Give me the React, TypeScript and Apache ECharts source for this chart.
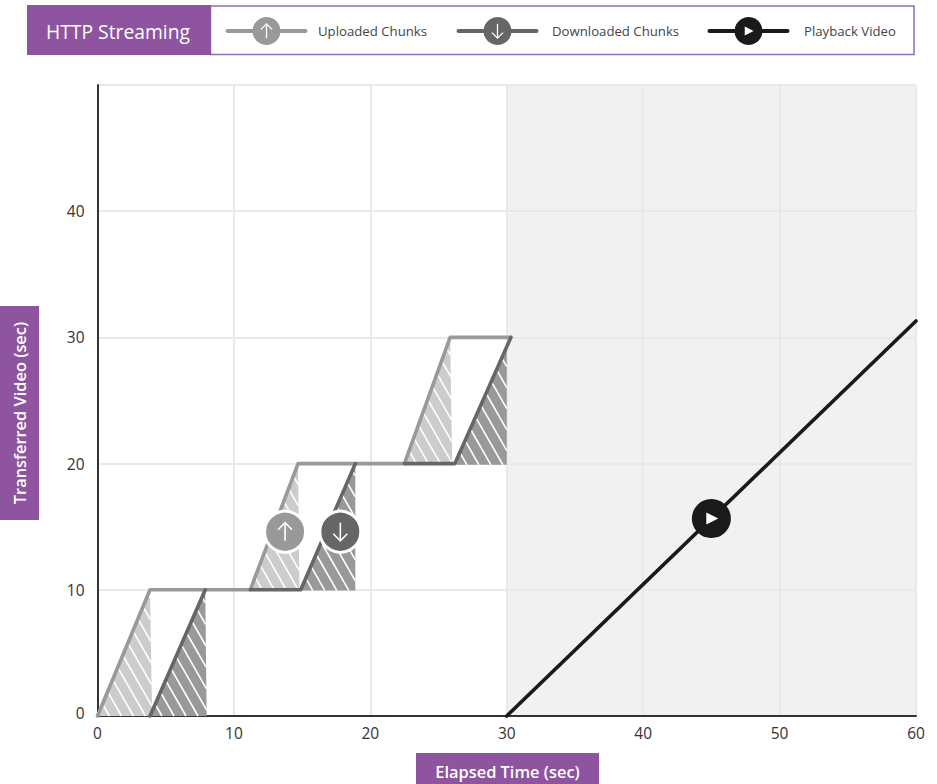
import React, { useEffect, useRef } from "react";
import * as echarts from "echarts";

const FONT = "'Open Sans'";
const PURPLE = "#8e54a0";
const UPLOAD = "#999999";
const DOWNLOAD = "#666666";
const PLAYBACK = "#1a1a1a";

const xTicks = { min: 0, max: 60, interval: 10 };
const yTicks = { min: 0, max: 50, interval: 10 };
const hiddenYLabels = [50];

const uploadLine = [[0, 0], [3.85, 10], [11.2, 10], [14.7, 20], [22.5, 20], [25.85, 30], [30.3, 30]];
const downloadLines = [
  [[3.85, 0], [7.9, 10]],
  [[11.2, 10], [14.9, 10], [18.9, 20]],
  [[22.5, 20], [26.2, 20], [30.3, 30]],
];
const playbackLine = [[30, 0], [60, 31.3]];
const uploadFills = [
  [0, 0, 3.85, 10, 4, 0],
  [11.2, 10, 14.7, 20, 14.8, 10],
  [22.5, 20, 25.85, 30, 26, 20],
];
const downloadFills = [
  [3.85, 0, 7.9, 10, 8, 0],
  [14.9, 9.95, 18.9, 20, 18.9, 9.95],
  [26.2, 19.9, 30, 29.4, 30, 19.9],
];
const shadedRange = [[30, 60]];
const markers = [
  { value: [13.75, 14.6], kind: "up" },
  { value: [17.8, 14.6], kind: "down" },
  { value: [45, 15.65], kind: "play" },
];
const legendItems = [
  { label: "Uploaded Chunks", color: UPLOAD, kind: "up" },
  { label: "Downloaded Chunks", color: DOWNLOAD, kind: "down" },
  { label: "Playback Video", color: PLAYBACK, kind: "play" },
];
const headerTitle = "HTTP Streaming";
const xAxisTitle = "Elapsed Time (sec)";
const yAxisTitle = "Transferred Video (sec)";

function clipLine(poly: number[][], a: number[], b: number[]) {
  let t0 = -Infinity, t1 = Infinity;
  let area = 0;
  for (let i = 0; i < poly.length; i++) {
    const p = poly[i], q = poly[(i + 1) % poly.length];
    area += p[0] * q[1] - q[0] * p[1];
  }
  const s = area > 0 ? 1 : -1;
  const dx = b[0] - a[0], dy = b[1] - a[1];
  for (let i = 0; i < poly.length; i++) {
    const p = poly[i], q = poly[(i + 1) % poly.length];
    const ex = q[0] - p[0], ey = q[1] - p[1];
    const n = s * (ex * dy - ey * dx);
    const d = s * (ex * (a[1] - p[1]) - ey * (a[0] - p[0]));
    if (Math.abs(n) < 1e-9) {
      if (d < 0) return null;
      continue;
    }
    const t = -d / n;
    if (n > 0) t0 = Math.max(t0, t);
    else t1 = Math.min(t1, t);
  }
  if (t0 >= t1) return null;
  return [a[0] + dx * t0, a[1] + dy * t0, a[0] + dx * t1, a[1] + dy * t1];
}

function hatchRender(fill: string) {
  const spacing = 12;
  const slope = 1.75;
  return (_: any, api: any) => {
    const pts = [0, 2, 4].map((i) => api.coord([api.value(i), api.value(i + 1)]));
    const children: any[] = [
      { type: "polygon", shape: { points: pts }, style: { fill, stroke: null } },
    ];
    const minX = Math.min(...pts.map((p: number[]) => p[0]));
    const maxX = Math.max(...pts.map((p: number[]) => p[0]));
    const minY = Math.min(...pts.map((p: number[]) => p[1]));
    const maxY = Math.max(...pts.map((p: number[]) => p[1]));
    const startOffset = minX - (maxY - minY) / slope - spacing;
    for (let x = startOffset; x < maxX + spacing; x += spacing) {
      const seg = clipLine(pts, [x, minY], [x + (maxY - minY) / slope, maxY]);
      if (seg) {
        children.push({
          type: "line",
          shape: { x1: seg[0], y1: seg[1], x2: seg[2], y2: seg[3] },
          style: { stroke: "#ffffff", lineWidth: 1.6 },
        });
      }
    }
    return { type: "group", children };
  };
}

function iconParts(kind: string, cx: number, cy: number, s: number) {
  if (kind === "play") {
    return [{
      type: "polygon",
      shape: { points: [[cx - 5.5 * s, cy - 6.5 * s], [cx - 5.5 * s, cy + 6.5 * s], [cx + 7.5 * s, cy]] },
      style: { fill: "#ffffff" },
    }];
  }
  const d = kind === "up" ? -1 : 1;
  const stroke = { stroke: "#ffffff", lineWidth: 1.6 * Math.max(s, 0.8), fill: "none" };
  return [
    { type: "line", shape: { x1: cx, y1: cy - d * 9 * s, x2: cx, y2: cy + d * 9 * s }, style: stroke },
    {
      type: "polyline",
      shape: { points: [[cx - 7 * s, cy + d * 2 * s], [cx, cy + d * 9 * s], [cx + 7 * s, cy + d * 2 * s]] },
      style: stroke,
    },
  ];
}

function legendGraphics() {
  const lineStarts = [226, 457, 708];
  const textStarts = [318, 552, 804];
  const out: any[] = [];
  legendItems.forEach((item, i) => {
    const x = lineStarts[i];
    const cx = x + 40.5;
    out.push({
      type: "line",
      shape: { x1: x + 1.5, y1: 31, x2: x + 79.5, y2: 31 },
      style: { stroke: item.color, lineWidth: 4, lineCap: "round" },
    });
    out.push({ type: "circle", shape: { cx, cy: 31, r: 14 }, style: { fill: item.color } });
    iconParts(item.kind, cx, 31, item.kind === "play" ? 0.68 : 0.8).forEach((p) => out.push(p));
    out.push({
      type: "text",
      x: textStarts[i],
      y: 31,
      style: {
        text: item.label,
        fill: "#444444",
        font: `13.2px ${FONT}`,
        verticalAlign: "middle",
      },
    });
  });
  return out;
}

export default function App() {
  const ref = useRef<HTMLDivElement>(null);
  useEffect(() => {
    const chart = echarts.init(ref.current!, undefined, { renderer: "svg" });
    const lineBase = {
      type: "line",
      symbol: "none",
      clip: false,
      silent: true,
    };
    chart.setOption({
      animation: false,
      grid: { left: 97.5, right: 21, top: 85, bottom: 68 },
      xAxis: {
        type: "value",
        ...xTicks,
        axisTick: { show: false },
        axisLine: { show: true, onZero: false, lineStyle: { color: "#333333", width: 2 } },
        axisLabel: { color: "#333333", fontFamily: FONT, fontSize: 15.5, margin: 9 },
        splitLine: { show: true, lineStyle: { color: "#e9e9e9", width: 2 } },
      },
      yAxis: {
        type: "value",
        ...yTicks,
        axisTick: { show: false },
        axisLine: { show: true, onZero: false, lineStyle: { color: "#333333", width: 2 } },
        axisLabel: {
          color: "#333333",
          fontFamily: FONT,
          fontSize: 15.5,
          margin: 13,
          formatter: (v: number) =>
            hiddenYLabels.includes(v) ? "" : v === 0 ? "{zero|0}" : String(v),
          rich: { zero: { padding: [0, 0, 6, 0], fontFamily: FONT, fontSize: 15.5, color: "#333333" } },
        },
        splitLine: { show: true, lineStyle: { color: "#e9e9e9", width: 2 } },
      },
      series: [
        {
          type: "custom",
          z: -1,
          silent: true,
          data: shadedRange,
          encode: { x: [0, 1] },
          renderItem: (params: any, api: any) => {
            const a = api.coord([api.value(0), yTicks.max]);
            const b = api.coord([api.value(1), yTicks.min]);
            return {
              type: "rect",
              shape: { x: a[0], y: a[1], width: b[0] - a[0], height: b[1] - a[1] },
              style: { fill: "#f1f1f1" },
            };
          },
        },
        {
          type: "custom",
          z: 1,
          silent: true,
          data: uploadFills,
          encode: { x: [0, 2, 4], y: [1, 3, 5] },
          renderItem: hatchRender("#cccccc"),
        },
        {
          type: "custom",
          z: 1,
          silent: true,
          data: downloadFills,
          encode: { x: [0, 2, 4], y: [1, 3, 5] },
          renderItem: hatchRender("#999999"),
        },
        {
          ...lineBase,
          name: "Uploaded Chunks",
          z: 3,
          data: uploadLine,
          lineStyle: { color: UPLOAD, width: 3.6, cap: "round", join: "round" },
        },
        ...downloadLines.map((d) => ({
          ...lineBase,
          name: "Downloaded Chunks",
          z: 4,
          data: d,
          lineStyle: { color: DOWNLOAD, width: 3.6, cap: "round", join: "round" },
        })),
        {
          ...lineBase,
          name: "Playback Video",
          z: 4,
          data: playbackLine,
          lineStyle: { color: PLAYBACK, width: 3.6, cap: "round" },
        },
        {
          type: "custom",
          z: 6,
          silent: true,
          clip: false,
          data: markers.map((m) => ({ value: m.value, kind: m.kind })),
          renderItem: (params: any, api: any) => {
            const [cx, cy] = api.coord([api.value(0), api.value(1)]);
            const m = markers[params.dataIndex];
            const color = m.kind === "up" ? UPLOAD : m.kind === "down" ? DOWNLOAD : PLAYBACK;
            return {
              type: "group",
              children: [
                {
                  type: "circle",
                  shape: { cx, cy, r: m.kind === "play" ? 19.5 : 20.5 },
                  style: { fill: color, stroke: m.kind === "play" ? null : "#ffffff", lineWidth: 3 },
                },
                ...iconParts(m.kind, cx, cy, m.kind === "play" ? 0.92 : 1),
              ],
            };
          },
        },
      ],
      graphic: [
        { type: "rect", shape: { x: 210.5, y: 6, width: 703.5, height: 48.5 }, style: { fill: "#ffffff", stroke: "#8a6fb8", lineWidth: 1.5 } },
        { type: "rect", shape: { x: 27, y: 5, width: 184, height: 50 }, style: { fill: PURPLE } },
        {
          type: "text",
          x: 46,
          y: 31,
          style: { text: headerTitle, fill: "#ffffff", font: `19.3px ${FONT}`, verticalAlign: "middle" },
        },
        ...legendGraphics(),
        { type: "rect", shape: { x: 0, y: 306, width: 39, height: 214 }, style: { fill: PURPLE } },
        {
          type: "text",
          x: 19,
          y: 413,
          rotation: Math.PI / 2,
          style: {
            text: yAxisTitle,
            fill: "#ffffff",
            font: `600 16.4px ${FONT}`,
            align: "center",
            verticalAlign: "middle",
          },
        },
        { type: "rect", shape: { x: 416, y: 753, width: 183, height: 31 }, style: { fill: PURPLE } },
        {
          type: "text",
          x: 507.5,
          y: 771,
          style: {
            text: xAxisTitle,
            fill: "#ffffff",
            font: `600 16.4px ${FONT}`,
            align: "center",
            verticalAlign: "middle",
          },
        },
      ],
    });
    return () => chart.dispose();
  }, []);
  return (
    <div
      ref={ref}
      style={{ position: "absolute", left: 0, top: 0, width: 937, height: 784, background: "#ffffff" }}
    />
  );
}
